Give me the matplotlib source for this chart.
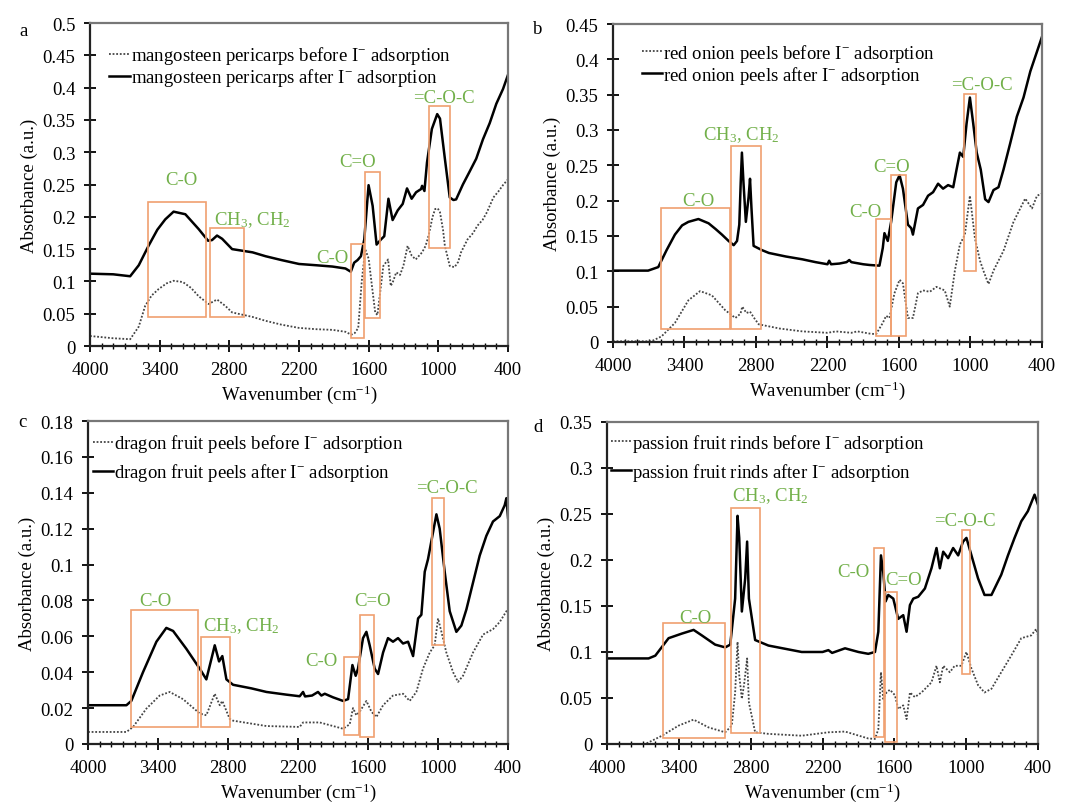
import numpy as np
import matplotlib.pyplot as plt
from matplotlib.patches import Rectangle
from matplotlib.ticker import MultipleLocator, FixedLocator, FuncFormatter

plt.rcParams['font.family'] = ['Liberation Serif', 'DejaVu Serif']
plt.rcParams['mathtext.fontset'] = 'custom'
plt.rcParams['mathtext.rm'] = 'Liberation Serif'
plt.rcParams['mathtext.it'] = 'Liberation Serif:italic'
plt.rcParams['mathtext.bf'] = 'Liberation Serif:bold'

# ---------------- data ----------------
# panel a : mangosteen pericarps
wa_after = [4000, 3800, 3654, 3580, 3496, 3420, 3352, 3280, 3179, 3064, 2983, 2949, 2906, 2862, 2776, 2600,
            2488, 2350, 2200, 2050, 1912, 1800, 1754, 1725, 1696, 1667, 1638, 1601, 1566, 1532, 1494, 1466,
            1430, 1394, 1350, 1307, 1270, 1230, 1192, 1149, 1140, 1120, 1098, 1056, 1010, 986, 944, 902,
            870, 847, 789, 731, 674, 616, 558, 501, 443, 400]
aa_after = [0.112, 0.111, 0.108, 0.125, 0.155, 0.180, 0.196, 0.208, 0.204, 0.181, 0.163, 0.164, 0.171, 0.166, 0.150, 0.145,
            0.139, 0.133, 0.127, 0.125, 0.123, 0.120, 0.115, 0.129, 0.133, 0.139, 0.165, 0.249, 0.217, 0.157, 0.165, 0.170,
            0.228, 0.195, 0.210, 0.220, 0.244, 0.228, 0.238, 0.243, 0.248, 0.240, 0.284, 0.336, 0.359, 0.352, 0.290, 0.230,
            0.226, 0.227, 0.250, 0.270, 0.290, 0.320, 0.345, 0.375, 0.398, 0.420]
wa_before = [4000, 3800, 3654, 3580, 3525, 3470, 3410, 3340, 3280, 3200, 3130, 3064, 2978, 2906, 2834, 2776,
             2600, 2488, 2350, 2200, 2050, 1912, 1800, 1750, 1720, 1690, 1660, 1630, 1600, 1570, 1544, 1525,
             1500, 1474, 1433, 1410, 1390, 1363, 1330, 1300, 1265, 1230, 1195, 1165, 1140, 1110, 1084, 1050,
             1028, 1005, 986, 960, 944, 902, 861, 830, 805, 749, 700, 665, 620, 582, 526, 480, 440, 400]
ab_before = [0.0155, 0.012, 0.0105, 0.030, 0.062, 0.078, 0.088, 0.097, 0.101, 0.099, 0.090, 0.077, 0.065, 0.072, 0.062, 0.052,
             0.045, 0.039, 0.033, 0.028, 0.026, 0.025, 0.022, 0.0175, 0.020, 0.028, 0.100, 0.150, 0.135, 0.090, 0.052, 0.048,
             0.085, 0.124, 0.134, 0.093, 0.100, 0.114, 0.110, 0.125, 0.155, 0.140, 0.134, 0.140, 0.145, 0.155, 0.171, 0.200,
             0.212, 0.213, 0.207, 0.180, 0.155, 0.124, 0.122, 0.130, 0.145, 0.165, 0.175, 0.186, 0.195, 0.207, 0.230, 0.240, 0.250, 0.258]

# panel b : red onion peels
wb_after = [4000, 3705, 3620, 3550, 3480, 3420, 3367, 3283, 3198, 3140, 3086, 3030, 2987, 2959, 2940, 2928,
            2918, 2905, 2885, 2862, 2850, 2838, 2820, 2750, 2692, 2550, 2411, 2300, 2200, 2186, 2170, 2100,
            2040, 2017, 2000, 1900, 1848, 1764, 1736, 1722, 1694, 1666, 1623, 1595, 1567, 1525, 1497, 1483,
            1441, 1398, 1356, 1314, 1272, 1230, 1188, 1145, 1117, 1089, 1061, 1033, 1005, 977, 948, 914,
            877, 849, 807, 765, 723, 667, 611, 555, 498, 442, 400]
ab_after = [0.101, 0.101, 0.106, 0.130, 0.152, 0.165, 0.170, 0.174, 0.168, 0.160, 0.152, 0.143, 0.137, 0.143, 0.166, 0.226,
            0.268, 0.226, 0.170, 0.205, 0.231, 0.190, 0.136, 0.130, 0.126, 0.121, 0.117, 0.113, 0.110, 0.115, 0.110, 0.111,
            0.113, 0.116, 0.113, 0.110, 0.109, 0.108, 0.133, 0.154, 0.143, 0.170, 0.226, 0.236, 0.217, 0.166, 0.161, 0.152,
            0.189, 0.194, 0.207, 0.212, 0.224, 0.217, 0.222, 0.219, 0.244, 0.268, 0.262, 0.309, 0.346, 0.309, 0.268, 0.244,
            0.202, 0.198, 0.215, 0.219, 0.244, 0.281, 0.319, 0.346, 0.383, 0.411, 0.432]
wb_before = [4000, 3677, 3592, 3480, 3367, 3269, 3170, 3058, 2973, 2930, 2915, 2880, 2850, 2820, 2777, 2600,
             2411, 2200, 2130, 2000, 1950, 1850, 1792, 1736, 1708, 1680, 1638, 1595, 1567, 1525, 1483, 1441,
             1398, 1342, 1286, 1216, 1174, 1131, 1089, 1047, 1005, 963, 920, 892, 849, 807, 723, 639,
             541, 484, 442, 400]
bb_before = [0.001, 0.001, 0.008, 0.027, 0.059, 0.072, 0.066, 0.045, 0.034, 0.040, 0.050, 0.041, 0.043, 0.035, 0.025, 0.019,
             0.015, 0.013, 0.015, 0.013, 0.015, 0.012, 0.011, 0.027, 0.037, 0.034, 0.069, 0.088, 0.083, 0.034, 0.034, 0.069,
             0.073, 0.071, 0.078, 0.073, 0.050, 0.101, 0.138, 0.152, 0.207, 0.147, 0.115, 0.101, 0.082, 0.101, 0.129, 0.170,
             0.203, 0.189, 0.207, 0.210]

# panel c : dragon fruit peels
wc_after = [4000, 3671, 3629, 3529, 3414, 3329, 3271, 3157, 3043, 2986, 2929, 2914, 2877, 2849, 2814, 2757,
            2600, 2471, 2300, 2186, 2157, 2140, 2080, 2029, 2000, 1971, 1900, 1814, 1771, 1734, 1706, 1686,
            1643, 1614, 1586, 1543, 1514, 1471, 1429, 1386, 1343, 1300, 1257, 1214, 1171, 1143, 1114, 1086,
            1043, 1014, 986, 943, 900, 843, 800, 757, 700, 643, 586, 529, 471, 429, 414, 400]
cc_after = [0.0216, 0.0216, 0.024, 0.040, 0.057, 0.0647, 0.063, 0.053, 0.042, 0.036, 0.051, 0.055, 0.046, 0.049, 0.036, 0.033,
            0.031, 0.029, 0.0275, 0.0266, 0.029, 0.0265, 0.027, 0.029, 0.027, 0.028, 0.026, 0.024, 0.025, 0.044, 0.038, 0.042,
            0.059, 0.0625, 0.055, 0.042, 0.039, 0.051, 0.059, 0.057, 0.059, 0.056, 0.057, 0.049, 0.070, 0.072, 0.096, 0.103,
            0.118, 0.128, 0.120, 0.096, 0.074, 0.0625, 0.066, 0.075, 0.090, 0.105, 0.116, 0.124, 0.127, 0.133, 0.137, 0.126]
wc_before = [4000, 3671, 3614, 3500, 3386, 3300, 3186, 3043, 2986, 2914, 2871, 2849, 2786, 2757, 2471, 2186,
             2157, 2014, 1814, 1757, 1729, 1700, 1671, 1614, 1571, 1529, 1471, 1386, 1300, 1243, 1186, 1129,
             1071, 1029, 1000, 971, 929, 871, 829, 786, 700, 614, 529, 471, 414, 400]
cc_before = [0.0067, 0.0067, 0.0095, 0.0197, 0.027, 0.029, 0.025, 0.017, 0.016, 0.028, 0.0216, 0.024, 0.014, 0.013, 0.010, 0.0095,
             0.012, 0.012, 0.0085, 0.011, 0.020, 0.016, 0.018, 0.024, 0.018, 0.015, 0.0216, 0.027, 0.028, 0.024, 0.029, 0.042,
             0.051, 0.055, 0.070, 0.0625, 0.051, 0.040, 0.0346, 0.038, 0.051, 0.061, 0.064, 0.068, 0.074, 0.075]

# panel d : passion fruit rinds
wd_after = [4000, 3653, 3597, 3486, 3375, 3277, 3208, 3097, 3013, 2971, 2930, 2910, 2896, 2874, 2846, 2830,
            2815, 2763, 2652, 2374, 2200, 2151, 2120, 2012, 1900, 1818, 1762, 1734, 1712, 1693, 1673, 1651,
            1609, 1568, 1526, 1498, 1470, 1442, 1401, 1345, 1290, 1248, 1220, 1192, 1151, 1109, 1067, 1026,
            998, 956, 901, 847, 789, 707, 651, 596, 540, 485, 429, 400]
dd_after = [0.093, 0.093, 0.096, 0.115, 0.120, 0.124, 0.118, 0.108, 0.105, 0.108, 0.158, 0.248, 0.224, 0.144, 0.180, 0.220,
            0.158, 0.113, 0.107, 0.100, 0.100, 0.102, 0.099, 0.104, 0.100, 0.098, 0.100, 0.122, 0.205, 0.187, 0.155, 0.162,
            0.158, 0.136, 0.140, 0.122, 0.151, 0.158, 0.160, 0.169, 0.191, 0.213, 0.191, 0.209, 0.202, 0.213, 0.205, 0.220,
            0.224, 0.205, 0.180, 0.162, 0.162, 0.184, 0.205, 0.224, 0.242, 0.253, 0.271, 0.260]
wd_before = [4000, 3680, 3541, 3402, 3277, 3152, 3013, 2958, 2930, 2910, 2896, 2874, 2855, 2830, 2815, 2763,
             2652, 2374, 2151, 2012, 1818, 1762, 1734, 1712, 1693, 1665, 1637, 1595, 1568, 1526, 1498, 1470,
             1429, 1373, 1290, 1248, 1220, 1192, 1137, 1096, 1040, 998, 956, 901, 847, 789, 707, 624,
             540, 457, 415, 400]
dd_before = [0.0, 0.0, 0.009, 0.020, 0.0265, 0.018, 0.0127, 0.020, 0.056, 0.111, 0.075, 0.049, 0.065, 0.093, 0.045, 0.0127,
             0.011, 0.009, 0.0127, 0.0135, 0.006, 0.0055, 0.016, 0.078, 0.049, 0.056, 0.059, 0.053, 0.038, 0.042, 0.027, 0.056,
             0.051, 0.056, 0.067, 0.085, 0.067, 0.085, 0.078, 0.085, 0.085, 0.100, 0.082, 0.064, 0.056, 0.060, 0.078, 0.096,
             0.115, 0.118, 0.125, 0.118]

samples = ['mangosteen pericarps', 'red onion peels', 'dragon fruit peels', 'passion fruit rinds']
letters = ['a', 'b', 'c', 'd']
y_max = [0.5, 0.45, 0.18, 0.35]
y_step = [0.05, 0.05, 0.02, 0.05]
x_ticks = [4000, 3400, 2800, 2200, 1600, 1000, 400]

# highlighted bands: (wavenumber 1, wavenumber 2, absorbance low, absorbance high)
boxes_a = [(3500, 3000, 0.045, 0.223), (2970, 2670, 0.045, 0.183), (1750, 1640, 0.012, 0.158),
           (1630, 1500, 0.044, 0.269), (1077, 904, 0.152, 0.371)]
boxes_b = [(3598, 3016, 0.019, 0.190), (3007, 2762, 0.019, 0.278), (1792, 1666, 0.008, 0.174),
           (1666, 1539, 0.008, 0.237), (1052, 954, 0.100, 0.351)]
boxes_c = [(3634, 3057, 0.0095, 0.0745), (3034, 2780, 0.0095, 0.0597), (1806, 1677, 0.005, 0.0485),
           (1671, 1552, 0.004, 0.072), (1052, 952, 0.055, 0.137)]
boxes_d = [(3536, 3013, 0.007, 0.131), (2963, 2721, 0.012, 0.256), (1768, 1687, 0.008, 0.213),
           (1679, 1581, 0.0025, 0.165), (1039, 970, 0.076, 0.233)]

# group labels: (text, wavenumber, absorbance)
labels_a = [('C-O', 3210, 0.258), ('CH$_3$, CH$_2$', 2600, 0.196), ('C-O', 1910, 0.137),
            ('C=O', 1700, 0.285), ('=C-O-C', 955, 0.385)]
labels_b = [('C-O', 3280, 0.200), ('CH$_3$, CH$_2$', 2920, 0.294), ('C-O', 1886, 0.184),
            ('C=O', 1662, 0.249), ('=C-O-C', 907, 0.364)]
labels_c = [('C-O', 3426, 0.080), ('CH$_3$, CH$_2$', 2683, 0.066), ('C-O', 1997, 0.0464),
            ('C=O', 1557, 0.080), ('=C-O-C', 926, 0.143)]
labels_d = [('C-O', 3259, 0.138), ('CH$_3$, CH$_2$', 2633, 0.270), ('C-O', 1945, 0.188),
            ('C=O', 1519, 0.179), ('=C-O-C', 1010, 0.243)]

# ---------------- figure ----------------
fig = plt.figure(figsize=(10.75, 8.04), dpi=100)

# axes rectangles in figure fraction
rects = [[0.0837, 0.5684, 0.3889, 0.4017],
         [0.5702, 0.5734, 0.3991, 0.3955],
         [0.0819, 0.0734, 0.3907, 0.4017],
         [0.5647, 0.0734, 0.4009, 0.4005]]
letter_pos = [(0.022, 0.961), (0.5005, 0.963), (0.021, 0.474), (0.5005, 0.468)]
# legend anchor and row spacing per panel
leg_anchor = [(0.014, 0.975), (0.036, 0.985), (-0.02, 1.006), (-0.022, 1.01)]
leg_space = [0.0, 0.0, 0.37, 0.37]

curves = [(wa_after, aa_after, wa_before, ab_before),
          (wb_after, ab_after, wb_before, bb_before),
          (wc_after, cc_after, wc_before, cc_before),
          (wd_after, dd_after, wd_before, dd_before)]
all_boxes = [boxes_a, boxes_b, boxes_c, boxes_d]
all_labels = [labels_a, labels_b, labels_c, labels_d]

box_col = '#F0A070'
txt_col = '#72B04A'
fs = 13.5

for i in range(4):
    ax = fig.add_axes(rects[i])
    w1, a1, w0, a0 = curves[i]
    ax.plot(w0, a0, color='#444444', lw=1.3, ls=(0, (1, 1)),
            label=samples[i] + ' before I$^{-}$ adsorption')
    ax.plot(w1, a1, color='black', lw=1.8,
            label=samples[i] + ' after I$^{-}$ adsorption')

    for (x1, x2, lo, hi) in all_boxes[i]:
        ax.add_patch(Rectangle((min(x1, x2), lo), abs(x1 - x2), hi - lo,
                               fill=False, edgecolor=box_col, lw=1.2, zorder=3))
    for (t, x, y) in all_labels[i]:
        ax.text(x, y, t, color=txt_col, fontsize=fs, ha='center', va='center')

    ax.set_xlim(4000, 400)
    ax.set_ylim(0, y_max[i])
    ax.xaxis.set_major_locator(FixedLocator(x_ticks))
    ax.xaxis.set_minor_locator(MultipleLocator(100))
    ax.yaxis.set_major_locator(MultipleLocator(y_step[i]))
    ax.yaxis.set_major_formatter(FuncFormatter(lambda v, p: '%g' % round(v, 3)))
    ax.tick_params(which='major', direction='inout', length=9, width=1.3, labelsize=fs,
                   top=False, right=False)
    ax.tick_params(which='minor', direction='inout', length=5, width=1.0, top=False, right=False)
    ax.tick_params(axis='y', pad=6)
    ax.tick_params(axis='x', which='major', pad=6.5)
    for s in ['left', 'bottom']:
        ax.spines[s].set_linewidth(1.6)
        ax.spines[s].set_color('#222222')
    for s in ['top', 'right']:
        ax.spines[s].set_linewidth(1.6)
        ax.spines[s].set_color('#777777')

    ax.set_xlabel('Wavenumber (cm$^{-1}$)', fontsize=fs, labelpad=3)
    ax.set_ylabel('Absorbance (a.u.)', fontsize=fs, labelpad=3)
    ax.legend(loc='upper left', bbox_to_anchor=leg_anchor[i], frameon=False, fontsize=fs,
              handlelength=1.1, handletextpad=0.05, labelspacing=leg_space[i], borderpad=0.2)
    fig.text(letter_pos[i][0], letter_pos[i][1], letters[i], fontsize=fs,
             ha='center', va='center')

fig.savefig('out.png', dpi=100)
